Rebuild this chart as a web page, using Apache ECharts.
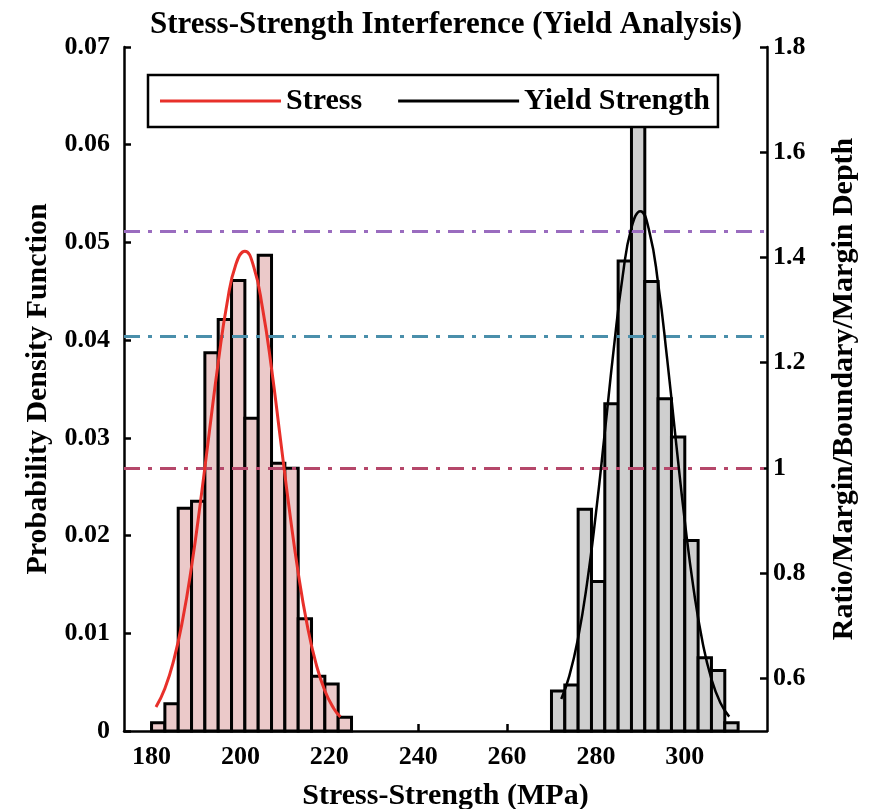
<!DOCTYPE html>
<html><head><meta charset="utf-8">
<script src="https://cdn.jsdelivr.net/npm/echarts@6/dist/echarts.min.js"></script>
<style>html,body{margin:0;padding:0;background:#fff}#c{width:877px;height:809px}</style>
</head><body><div id="c"></div>
<script>
// ---- data ----
const binWidth = 3;
const stressBinStarts = [180,183,186,189,192,195,198,201,204,207,210,213,216,219,222];
const stressDensity   = [0.00085,0.0028,0.0228,0.0235,0.0387,0.0421,0.0461,0.0320,0.0487,0.0274,0.0269,0.0115,0.0056,0.0048,0.0014];
const strengthBinStarts = [270,273,276,279,282,285,288,291,294,297,300,303,306,309];
const strengthDensity   = [0.0041,0.0047,0.0227,0.0153,0.0335,0.0481,0.063,0.0460,0.0340,0.0301,0.0195,0.0075,0.0062,0.00085];

const stressCurveX = [181,183,185,187,189,191,193,195,197,199,201,203,205,207,209,211,213,215,217,219,221,222.5];
const stressCurveY = [0.00246,0.00435,0.00726,0.01138,0.01682,0.0234,0.0306,0.0377,0.0438,0.0478,0.0491,0.0475,0.0432,0.0371,0.0299,0.0227,0.0162,0.0109,0.00691,0.00412,0.00231,0.00144];
const strengthCurveX = [272.2,274,276,278,280,282,284,286,288,290,292,294,296,298,300,302,304,306,308,310];
const strengthCurveY = [0.00328,0.00562,0.00955,0.01511,0.02227,0.03055,0.03905,0.04648,0.05152,0.0532,0.05116,0.04581,0.03821,0.0297,0.02148,0.01448,0.00909,0.00531,0.00289,0.00147];

const refLevels = [1.0, 1.25, 1.445];
const refColors = ['#b5476a', '#4a8fab', '#9a6cbf'];
const xTicks = [180,200,220,240,260,280,300];
const rightTicks = [0.6,0.8,1.0,1.2,1.4,1.6,1.8];

// ---- chart ----
const FONT = '"Liberation Serif","Times New Roman",serif';
const chart = echarts.init(document.getElementById('c'), null, {renderer:'canvas'});

function histData(starts, dens){ return starts.map((s,i)=>[s, s+binWidth, dens[i]]); }
function histRender(fill){
  return function(params, api){
    const x0 = api.value(0), x1 = api.value(1), h = api.value(2);
    const p0 = api.coord([x0, 0]);
    const p1 = api.coord([x1, h]);
    return {type:'rect', shape:{x:p0[0], y:p1[1], width:p1[0]-p0[0], height:p0[1]-p1[1]},
      style:{fill:fill, stroke:'#000', lineWidth:3}};
  };
}
const pairs = (xs, ys) => xs.map((x,i)=>[x, ys[i]]);

const axisText = {color:'#000', fontFamily:FONT, fontWeight:'bold', fontSize:26};
const nameText = {color:'#000', fontFamily:FONT, fontWeight:'bold', fontSize:30};

chart.setOption({
  animation:false,
  backgroundColor:'#fff',
  title:{text:'Stress-Strength Interference (Yield Analysis)', left:145, top:4,
    textStyle:{color:'#000', fontFamily:FONT, fontWeight:'bold', fontSize:31}},
  legend:{data:['Stress','Yield Strength'], left:148, top:75, orient:'horizontal',
    icon:'rect', itemWidth:121, itemHeight:3, itemGap:36,
    padding:[11,8,11,12], borderColor:'#000', borderWidth:2.5, backgroundColor:'#fff',
    textStyle:{color:'#000', fontFamily:FONT, fontWeight:'bold', fontSize:30}},
  grid:{left:124, right:110, top:47, bottom:78, containLabel:false, outerBoundsMode:'none'},
  xAxis:{type:'value', min:173.8, max:318.5, name:'Stress-Strength (MPa)', nameLocation:'middle', nameGap:50,
    nameTextStyle:nameText,
    axisLine:{show:true, onZero:false, lineStyle:{color:'#000', width:2.5}},
    axisTick:{show:true, inside:true, length:7, lineStyle:{color:'#000', width:2.5}, customValues:xTicks},
    axisLabel:Object.assign({margin:13, customValues:xTicks}, axisText),
    splitLine:{show:false}},
  yAxis:[
    {type:'value', min:0, max:0.07, interval:0.01, position:'left', name:'Probability Density Function',
      nameLocation:'middle', nameRotate:90, nameGap:67, nameTextStyle:nameText,
      axisLine:{show:true, lineStyle:{color:'#000', width:2.5}},
      axisTick:{show:true, inside:true, length:7, lineStyle:{color:'#000', width:2.5}},
      axisLabel:Object.assign({margin:14, formatter:v=>v===0?'0':v.toFixed(2)}, axisText),
      splitLine:{show:false}},
    {type:'value', min:0.5, max:1.8, position:'right', name:'Ratio/Margin/Boundary/Margin Depth',
      nameLocation:'middle', nameRotate:90, nameGap:62, nameTextStyle:nameText,
      axisLine:{show:true, lineStyle:{color:'#000', width:2.5}},
      axisTick:{show:true, inside:true, length:7, lineStyle:{color:'#000', width:2.5}, customValues:rightTicks},
      axisLabel:Object.assign({margin:6, customValues:rightTicks, formatter:v=>String(parseFloat(v.toFixed(2)))}, axisText),
      splitLine:{show:false}}
  ],
  series:[
    {name:'Stress hist', type:'custom', renderItem:histRender('#ebc9c9'), encode:{x:[0,1], y:2},
      data:histData(stressBinStarts, stressDensity), z:2, silent:true},
    {name:'Strength hist', type:'custom', renderItem:histRender('#cfcfcf'), encode:{x:[0,1], y:2},
      data:histData(strengthBinStarts, strengthDensity), z:2, silent:true},
    {name:'refs', type:'line', yAxisIndex:1, data:[], z:3, silent:true,
      markLine:{symbol:'none', silent:true, label:{show:false},
        data:refLevels.map((v,i)=>({yAxis:v, lineStyle:{color:refColors[i], width:3, type:[16,8,4,8]}}))}},
    {name:'Stress', type:'line', smooth:true, showSymbol:false, symbol:'none', z:5,
      data:pairs(stressCurveX, stressCurveY), lineStyle:{color:'#e8302a', width:3}, itemStyle:{color:'#e8302a'}},
    {name:'Yield Strength', type:'line', smooth:true, showSymbol:false, symbol:'none', z:5,
      data:pairs(strengthCurveX, strengthCurveY), lineStyle:{color:'#000', width:2.5}, itemStyle:{color:'#000'}}
  ]
});
</script></body></html>
